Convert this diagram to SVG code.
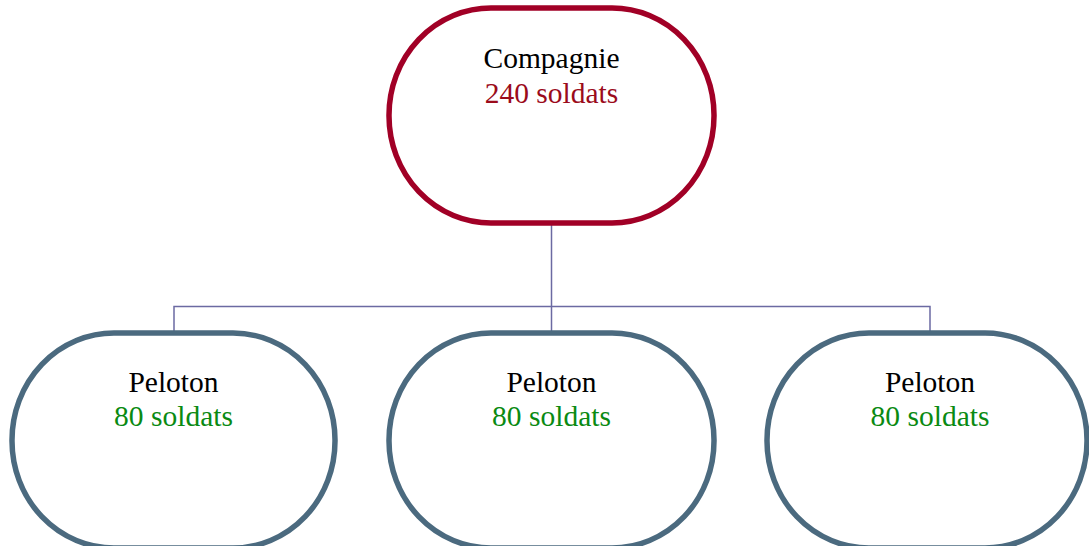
<svg xmlns="http://www.w3.org/2000/svg" width="1089" height="546" viewBox="0 0 1089 546">
<style>
.top{fill:#fff;stroke:#a10026;stroke-width:5.5}
.sub{fill:#fff;stroke:#4b6a7f;stroke-width:5.5}
.t{font-family:"Liberation Serif",serif;font-size:29.5px;text-anchor:middle}
.k{fill:#000}
.r{fill:#9b0b1b}
.g{fill:#0a8a12}
.c{fill:none;stroke:#6b6aa2;stroke-width:1.5}
</style>
<rect width="1089" height="546" fill="#fff"/>
<g id="connectors">
<path class="c" d="M551.5 225V306.5M174 331V306.5H930V331M551.5 306.5V331"/>
</g>
<g id="compagnie">
<rect class="top" x="389" y="8" width="325" height="215" rx="102" ry="107"/>
<text class="t k" x="551.5" y="68">Compagnie</text>
<text class="t r" x="551.5" y="103">240 soldats</text>
</g>
<g id="peloton1">
<rect class="sub" x="12" y="333" width="323" height="215" rx="102" ry="107"/>
<text class="t k" x="173.5" y="392">Peloton</text>
<text class="t g" x="173.5" y="426">80 soldats</text>
</g>
<g id="peloton2">
<rect class="sub" x="389" y="333" width="325" height="215" rx="102" ry="107"/>
<text class="t k" x="551.5" y="392">Peloton</text>
<text class="t g" x="551.5" y="426">80 soldats</text>
</g>
<g id="peloton3">
<rect class="sub" x="767" y="333" width="320" height="215" rx="102" ry="107"/>
<text class="t k" x="930" y="392">Peloton</text>
<text class="t g" x="930" y="426">80 soldats</text>
</g>
</svg>
